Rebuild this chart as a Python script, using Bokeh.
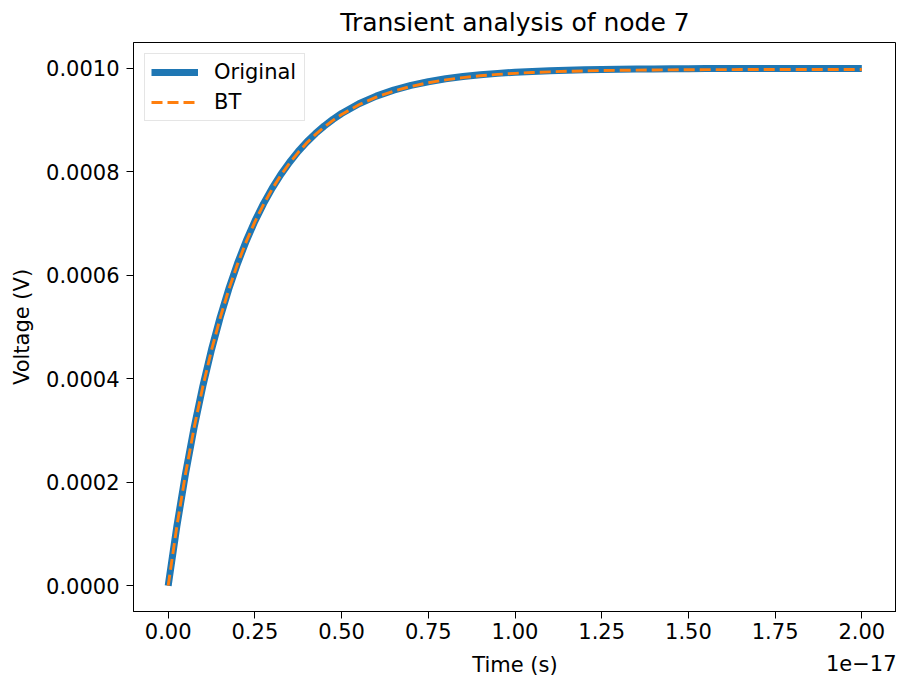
from bokeh.plotting import figure
from bokeh.models import Range1d, FixedTicker, PrintfTickFormatter, Label, Legend, LegendItem
from bokeh.embed import file_html
from bokeh.resources import INLINE

# Time in units of 1e-17 s
time_1e17 = [0.0, 0.025, 0.05, 0.075, 0.10, 0.125, 0.15, 0.175, 0.20, 0.225, 0.25, 0.275,
             0.30, 0.325, 0.35, 0.375, 0.40, 0.425, 0.45, 0.475, 0.50, 0.55, 0.60, 0.65,
             0.70, 0.75, 0.80, 0.85, 0.90, 0.95, 1.00, 1.05, 1.10, 1.15, 1.20, 1.25, 1.30,
             1.35, 1.40, 1.45, 1.50, 1.55, 1.60, 1.65, 1.70, 1.75, 1.80, 1.85, 1.90, 1.95, 2.00]

v_original = [0.0, 0.0001148, 0.0002165, 0.0003064, 0.0003860, 0.0004565, 0.0005189, 0.0005741,
              0.0006230, 0.0006663, 0.0007046, 0.0007385, 0.0007685, 0.0007951, 0.0008186,
              0.0008395, 0.0008579, 0.0008742, 0.0008886, 0.0009014, 0.0009127, 0.0009316,
              0.0009464, 0.0009580, 0.0009671, 0.0009742, 0.0009798, 0.0009842, 0.0009876,
              0.0009903, 0.0009924, 0.0009940, 0.0009953, 0.0009963, 0.0009971, 0.0009978,
              0.0009982, 0.0009986, 0.0009989, 0.0009991, 0.0009993, 0.0009995, 0.0009996,
              0.0009997, 0.0009997, 0.0009998, 0.0009998, 0.0009999, 0.0009999, 0.0009999,
              0.0009999]

v_bt = [0.0, 0.0001145, 0.0002160, 0.0003057, 0.0003851, 0.0004555, 0.0005178, 0.0005729,
        0.0006217, 0.0006649, 0.0007031, 0.0007370, 0.0007669, 0.0007934, 0.0008169,
        0.0008377, 0.0008561, 0.0008724, 0.0008867, 0.0008995, 0.0009108, 0.0009296,
        0.0009444, 0.0009560, 0.0009651, 0.0009722, 0.0009778, 0.0009822, 0.0009856,
        0.0009883, 0.0009904, 0.0009920, 0.0009933, 0.0009943, 0.0009951, 0.0009958,
        0.0009962, 0.0009966, 0.0009969, 0.0009971, 0.0009973, 0.0009975, 0.0009976,
        0.0009977, 0.0009977, 0.0009978, 0.0009978, 0.0009979, 0.0009979, 0.0009979,
        0.0009979]

x_ticks = [0.0, 0.25, 0.5, 0.75, 1.0, 1.25, 1.5, 1.75, 2.0]
y_ticks = [0.0, 0.0002, 0.0004, 0.0006, 0.0008, 0.0010]
x_label_text = "Time (s)"
x_offset_text = "1e\u221217"

FONT = "DejaVu Sans"
FS = "21px"
X_MIN, X_MAX = -0.1, 2.1
Y_MIN, Y_MAX = -0.00005, 0.00105

p = figure(width=896, height=682, output_backend="svg", toolbar_location=None,
           x_range=Range1d(X_MIN, X_MAX), y_range=Range1d(Y_MIN, Y_MAX),
           min_border_left=133, min_border_right=0, min_border_top=42, min_border_bottom=71,
           title="Transient analysis of node 7")

p.title.text_font = FONT
p.title.text_font_size = "25px"
p.title.text_font_style = "normal"
p.title.align = "center"
p.title.text_color = "black"
p.title.standoff = 11

p.xgrid.visible = False
p.ygrid.visible = False
p.outline_line_color = "black"
p.outline_line_width = 1
p.outline_line_alpha = 1.0

for ax in (p.xaxis[0], p.yaxis[0]):
    ax.axis_line_color = "black"
    ax.major_tick_line_color = "black"
    ax.major_tick_out = 7
    ax.major_tick_in = 0
    ax.minor_tick_line_color = None
    ax.major_label_text_font = FONT
    ax.major_label_text_font_size = FS
    ax.major_label_text_color = "black"
    ax.axis_label_text_font = FONT
    ax.axis_label_text_font_size = FS
    ax.axis_label_text_font_style = "normal"
    ax.axis_label_text_color = "black"
    ax.major_label_standoff = 7

p.xaxis.ticker = FixedTicker(ticks=x_ticks)
p.xaxis.formatter = PrintfTickFormatter(format="%.2f")
p.xaxis.major_label_standoff = 4

p.yaxis.ticker = FixedTicker(ticks=y_ticks)
p.yaxis.formatter = PrintfTickFormatter(format="%.4f")
p.yaxis.axis_label = "Voltage (V)"
p.yaxis.axis_label_standoff = 9

r1 = p.line(time_1e17, v_original, line_color="#1f77b4", line_width=7)
r2 = p.line(time_1e17, v_bt, line_color="#ff7f0e", line_width=2.9, line_dash="11 5")

legend = Legend(items=[LegendItem(label="Original", renderers=[r1]),
                       LegendItem(label="BT", renderers=[r2])],
                location="top_left", margin=11, padding=6, spacing=6,
                glyph_width=47, glyph_height=24, label_standoff=16, label_width=84,
                label_text_font=FONT, label_text_font_size=FS, label_text_color="black",
                label_text_baseline="middle",
                border_line_color="#cccccc", border_line_width=1,
                background_fill_color="white", background_fill_alpha=0.8)
p.add_layout(legend, "center")

xlabel = Label(x=(X_MIN + X_MAX) / 2, y=Y_MIN, x_units="data", y_units="data", y_offset=-53,
               text=x_label_text,
               text_font=FONT, text_font_size=FS, text_align="center",
               text_baseline="middle", text_color="black")
p.add_layout(xlabel, "below")

offset = Label(x=X_MAX, y=Y_MIN, x_units="data", y_units="data", y_offset=-51,
               text=x_offset_text,
               text_font=FONT, text_font_size=FS, text_align="right",
               text_baseline="middle", text_color="black")
p.add_layout(offset, "below")

open("out.html", "w").write(file_html(p, INLINE))
